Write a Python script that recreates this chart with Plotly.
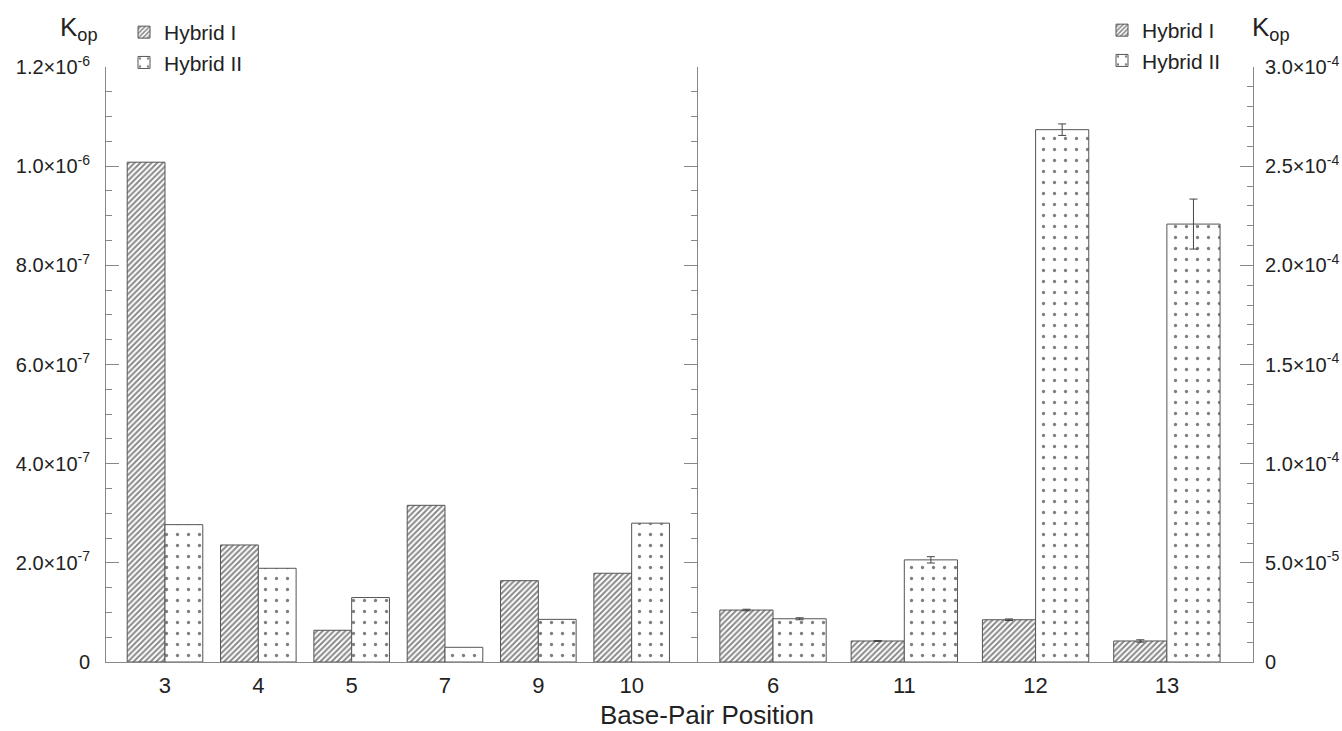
import plotly.graph_objects as go

# ---------------- data ----------------
left_positions = ["3", "4", "5", "7", "9", "10"]
left_hybrid1 = [1.008e-6, 2.36e-7, 6.4e-8, 3.16e-7, 1.64e-7, 1.79e-7]
left_hybrid2 = [2.77e-7, 1.89e-7, 1.30e-7, 2.96e-8, 8.6e-8, 2.80e-7]

right_positions = ["6", "11", "12", "13"]
right_hybrid1 = [2.62e-5, 1.06e-5, 2.13e-5, 1.06e-5]
right_hybrid2 = [2.18e-5, 5.15e-5, 2.684e-4, 2.208e-4]
right_hybrid1_err = [4e-7, 2e-7, 4e-7, 6e-7]
right_hybrid2_err = [5e-7, 1.6e-6, 2.9e-6, 1.26e-5]

left_tickvals = [0, 2e-7, 4e-7, 6e-7, 8e-7, 1.0e-6, 1.2e-6]
left_ticktext = ["0", "2.0×10<sup>-7</sup>", "4.0×10<sup>-7</sup>", "6.0×10<sup>-7</sup>",
                 "8.0×10<sup>-7</sup>", "1.0×10<sup>-6</sup>", "1.2×10<sup>-6</sup>"]
right_tickvals = [0, 5e-5, 1.0e-4, 1.5e-4, 2.0e-4, 2.5e-4, 3.0e-4]
right_ticktext = ["0", "5.0×10<sup>-5</sup>", "1.0×10<sup>-4</sup>", "1.5×10<sup>-4</sup>",
                  "2.0×10<sup>-4</sup>", "2.5×10<sup>-4</sup>", "3.0×10<sup>-4</sup>"]

# ---------------- styles ----------------
FONT = "Liberation Sans, Arial, sans-serif"
TXT = "#222222"
EDGE = "#555555"
AXIS = "#888888"

hatch = dict(shape="/", fgcolor="#111111", bgcolor="white", size=4, solidity=0.5)
dots = dict(shape=".", fgcolor="#000000", bgcolor="white", size=11, solidity=0.07)

W, H = 1342, 731
L, R, T, B = 106, 89, 67, 69
plot_w = W - L - R
plot_h = H - T - B
split = (697 - L) / plot_w


def px_x(px):
    return (px - L) / plot_w


def px_y(py):
    return (H - B - py) / plot_h


fig = go.Figure()

fig.add_trace(go.Bar(name="Hybrid I", x=left_positions, y=left_hybrid1, xaxis="x", yaxis="y",
                     marker=dict(color="white", pattern=hatch, line=dict(color=EDGE, width=1)),
                     legend="legend"))
fig.add_trace(go.Bar(name="Hybrid II", x=left_positions, y=left_hybrid2, xaxis="x", yaxis="y",
                     marker=dict(color="white", pattern=dots, line=dict(color=EDGE, width=1)),
                     legend="legend"))

err_style = dict(type="data", color="#444444", thickness=1, width=4)
fig.add_trace(go.Bar(name="Hybrid I", x=right_positions, y=right_hybrid1, xaxis="x2", yaxis="y2",
                     error_y=dict(array=right_hybrid1_err, **err_style),
                     marker=dict(color="white", pattern=hatch, line=dict(color=EDGE, width=1)),
                     legend="legend2"))
fig.add_trace(go.Bar(name="Hybrid II", x=right_positions, y=right_hybrid2, xaxis="x2", yaxis="y2",
                     error_y=dict(array=right_hybrid2_err, **err_style),
                     marker=dict(color="white", pattern=dots, line=dict(color=EDGE, width=1)),
                     legend="legend2"))

common_y = dict(showline=True, linecolor=AXIS, linewidth=1, ticks="inside", ticklen=13,
                tickcolor=AXIS, tickwidth=1, showgrid=False, zeroline=False, automargin=False,
                tickfont=dict(family=FONT, size=20, color=TXT))
common_x = dict(type="category", showline=True, linecolor=AXIS, linewidth=1, ticks="",
                showgrid=False, zeroline=False, ticklabelstandoff=4, automargin=False,
                tickfont=dict(family=FONT, size=22, color=TXT))

fig.update_layout(
    width=W, height=H, margin=dict(l=L, r=R, t=T, b=B, autoexpand=False),
    paper_bgcolor="white", plot_bgcolor="white",
    barmode="group", bargap=0.19, bargroupgap=0,
    font=dict(family=FONT, color=TXT),
    xaxis=dict(domain=[0, split], range=[-0.632, 5.70], anchor="y", **common_x),
    xaxis2=dict(domain=[split, 1], range=[-0.579, 3.656], anchor="y2", **common_x),
    yaxis=dict(domain=[0, 1], anchor="x", range=[0, 1.2e-6], tickvals=left_tickvals,
               ticktext=left_ticktext, mirror="ticks", ticklabelstandoff=11,
               minor=dict(dtick=5e-8, ticks="inside", ticklen=6, tickcolor=AXIS),
               **common_y),
    yaxis2=dict(domain=[0, 1], anchor="x2", side="right", range=[0, 3.0e-4],
                tickvals=right_tickvals, ticktext=right_ticktext, ticklabelstandoff=7,
                minor=dict(dtick=1e-5, ticks="inside", ticklen=6, tickcolor=AXIS),
                **common_y),
    legend=dict(x=px_x(124), y=px_y(12), xanchor="left", yanchor="top",
                font=dict(family=FONT, size=21, color=TXT), bgcolor="rgba(0,0,0,0)",
                tracegroupgap=0, itemclick=False),
    legend2=dict(x=px_x(1102), y=px_y(10), xanchor="left", yanchor="top",
                 font=dict(family=FONT, size=21, color=TXT), bgcolor="rgba(0,0,0,0)",
                 tracegroupgap=0, itemclick=False),
    annotations=[
        dict(text="Base-Pair Position", xref="paper", yref="paper",
             x=px_x(707), y=px_y(715), xanchor="center", yanchor="middle", showarrow=False,
             font=dict(family=FONT, size=26, color=TXT)),
        dict(text="K<sub>op</sub>", xref="paper", yref="paper",
             x=px_x(58), y=px_y(28), xanchor="left", yanchor="middle",
             showarrow=False, font=dict(family=FONT, size=26, color=TXT)),
        dict(text="K<sub>op</sub>", xref="paper", yref="paper",
             x=px_x(1250), y=px_y(28), xanchor="left", yanchor="middle",
             showarrow=False, font=dict(family=FONT, size=26, color=TXT)),
    ],
)

fig.write_html("out.html")
